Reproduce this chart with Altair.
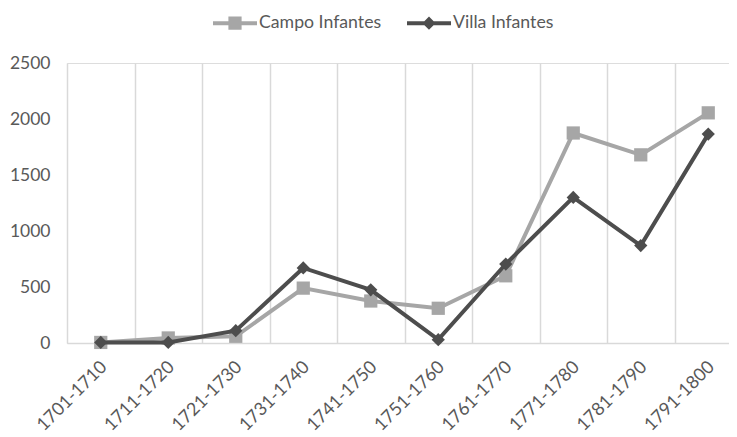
import altair as alt
import pandas as pd

categories = ["1701-1710", "1711-1720", "1721-1730", "1731-1740", "1741-1750",
              "1751-1760", "1761-1770", "1771-1780", "1781-1790", "1791-1800"]
campo = [5, 45, 60, 490, 375, 310, 600, 1875, 1680, 2055]
villa = [5, 5, 110, 670, 475, 30, 705, 1300, 870, 1865]
series = ["Campo Infantes", "Villa Infantes"]
colors = ["#a6a6a6", "#4d4d4d"]

rows = []
for c, a, b in zip(categories, campo, villa):
    rows.append({"period": c, "series": series[0], "value": a})
    rows.append({"period": c, "series": series[1], "value": b})
df = pd.DataFrame(rows)

FONT = "Lato"
TXT = "#595959"

campo_path = "M-1,-0.09L1,-0.09L1,0.09L-1,0.09Z M-0.3,-0.3L0.3,-0.3L0.3,0.3L-0.3,0.3Z"
villa_path = "M-1,-0.09L1,-0.09L1,0.09L-1,0.09Z M0,-0.3L0.3,0L0,0.3L-0.3,0Z"

x_enc = alt.X(
    "period:N",
    sort=categories,
    bandPosition=0.5,
    scale=alt.Scale(type="band", paddingInner=0, paddingOuter=0, range=[0, 675]),
    axis=alt.Axis(
        title=None, labelAngle=-45, labelAlign="right", labelBaseline="middle",
        labelPadding=21, labelOffset=3, ticks=False, grid=True, tickBand="extent",
        gridColor="#d9d9d9", gridWidth=1.5, domainColor="#d9d9d9", domainWidth=1.5,
        labelFont=FONT, labelFontSize=18, labelColor=TXT,
    ),
)
y_enc = alt.Y(
    "value:Q",
    scale=alt.Scale(domain=[0, 2500], nice=False),
    axis=alt.Axis(
        title=None, values=[0, 500, 1000, 1500, 2000, 2500], format="d", grid=False,
        ticks=False, domain=False, labelPadding=17,
        labelFont=FONT, labelFontSize=17.5, labelColor=TXT,
    ),
)

base = alt.Chart(df)
layers = []
for s, col, shp, sz in zip(series, colors, ["square", "diamond"], [175, 175]):
    sub = base.transform_filter(alt.datum.series == s)
    layers.append(sub.mark_line(strokeWidth=4, color=col).encode(x=x_enc, y=y_enc))
    layers.append(sub.mark_point(filled=True, opacity=1, size=sz, shape=shp, color=col)
                  .encode(x=x_enc, y=y_enc))

legend_props = dict(
    title=None, orient="none", legendX=146, legendY=-62,
    direction="horizontal", columnPadding=25, labelOffset=2,
    symbolSize=1936, symbolStrokeWidth=0, symbolOpacity=1,
    labelFont=FONT, labelFontSize=17.7, labelColor=TXT,
)

legend_layer = base.mark_point(filled=True, opacity=0).encode(
    x=x_enc, y=y_enc,
    color=alt.Color("series:N", scale=alt.Scale(domain=series, range=colors),
                    legend=alt.Legend(**legend_props)),
    shape=alt.Shape("series:N", scale=alt.Scale(domain=series, range=[campo_path, villa_path]),
                    legend=alt.Legend(**legend_props)),
)
layers.append(legend_layer)

chart = alt.layer(*layers).properties(
    width=662, height=280,
    autosize=alt.AutoSizeParams(type="none"),
    padding={"left": 59, "top": 55, "right": 0, "bottom": 94},
).configure_view(stroke=None).configure(background="white")

chart.save("out.html", embed_options={"renderer": "svg", "actions": False})
